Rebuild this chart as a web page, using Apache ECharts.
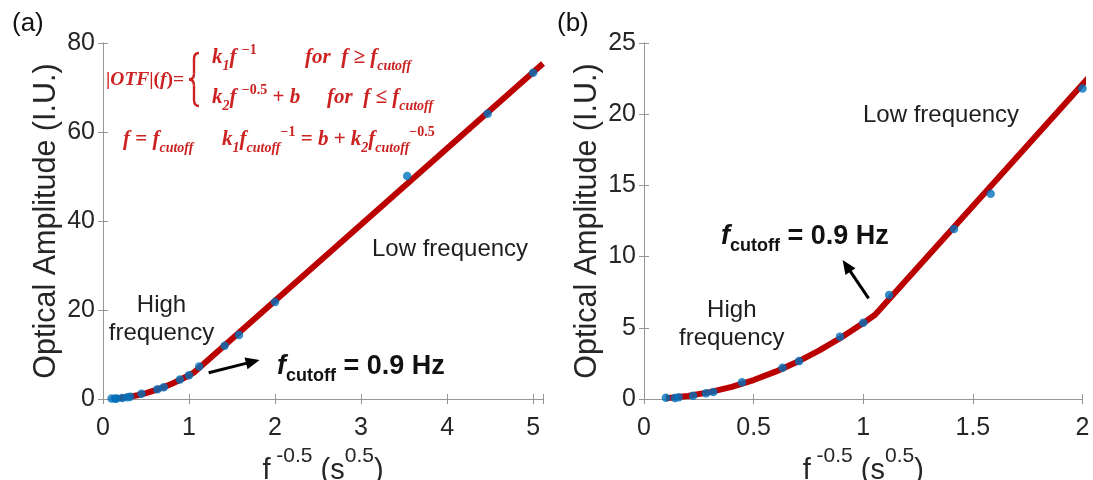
<!DOCTYPE html>
<html>
<head>
<meta charset="utf-8">
<script src="https://cdn.jsdelivr.net/npm/echarts@6/dist/echarts.min.js"></script>
<style>
  html, body { margin: 0; padding: 0; background: #fff; }
  #chart { width: 1093px; height: 480px; }
</style>
</head>
<body>
<div id="chart"></div>
<script>
// Measured amplitude versus f^-0.5 (f = modulation frequency, Hz)
const invSqrtF = [0.1, 0.141, 0.158, 0.224, 0.283, 0.316, 0.447, 0.632, 0.707, 0.894, 1.0, 1.118, 1.414, 1.581, 2.0, 3.536, 4.472, 5.0];
const amplitude = [0.09, 0.07, 0.12, 0.23, 0.40, 0.49, 1.17, 2.19, 2.66, 4.38, 5.36, 7.30, 11.94, 14.41, 21.8, 50.1, 64.1, 73.3];

// Piecewise fit: quadratic branch (high frequency) then straight branch (low frequency)
const fitX = [0.1, 0.2, 0.3, 0.4, 0.5, 0.6, 0.7, 0.8, 0.9, 1.0, 1.054, 2.0, 5.115];
const fitY = [0.05, 0.21, 0.48, 0.85, 1.33, 1.92, 2.61, 3.41, 4.32, 5.33, 5.92, 22.1, 75.4];

// Axis ranges and tick steps for panels (a) and (b)
const xRangeA = [0, 5.115], xStepA = 1;
const yRangeA = [0, 80], yStepA = 20;
const xRangeB = [0, 2], xStepB = 0.5;
const yRangeB = [0, 25], yStepB = 5;

const pairs = (xs, ys) => xs.map((x, i) => [x, ys[i]]);
const measured = pairs(invSqrtF, amplitude);
const fitted = pairs(fitX, fitY);

const SANS = '"Liberation Sans", Arial, Helvetica, sans-serif';
const SERIF = '"Liberation Serif", "Times New Roman", serif';
const FRAME = '#979797';
const INK = '#262626';
const RED = '#bb0000';
const EQ = '#cc2222';
const BLUE = '#0072bd';

const chart = echarts.init(document.getElementById('chart'), null, { renderer: 'canvas' });

function tickFmt(step) {
  return function (v) {
    const k = Math.round(v / step);
    return Math.abs(k * step - v) < 1e-6 ? String(+(v.toFixed(3))) : '';
  };
}

const xName = {
  name: '{m|f}{s| -0.5}{m| (s}{s|0.5}{m|)}',
  nameLocation: 'middle',
  nameGap: 39,
  nameTextStyle: {
    rich: {
      m: { fontSize: 29, lineHeight: 50, fontFamily: SANS, color: INK },
      s: { fontSize: 21, lineHeight: 18, verticalAlign: 'top', fontFamily: SANS, color: INK }
    }
  }
};

function bottomAxis(grid, range, step) {
  return Object.assign({
    type: 'value', gridIndex: grid, position: 'bottom',
    min: range[0], max: range[1], interval: step,
    axisLine: { show: true, lineStyle: { color: FRAME, width: 1 } },
    axisTick: { show: true, inside: true, length: 5, lineStyle: { color: FRAME } },
    axisLabel: { show: true, fontSize: 25, margin: 17, color: INK, fontFamily: SANS, formatter: tickFmt(step) },
    splitLine: { show: false }
  }, xName);
}
function topAxis(grid, range, step) {
  return {
    type: 'value', gridIndex: grid, position: 'top',
    min: range[0], max: range[1], interval: step,
    axisLine: { show: true, lineStyle: { color: FRAME, width: 1 } },
    axisTick: { show: true, inside: true, length: 5, lineStyle: { color: FRAME } },
    axisLabel: { show: false },
    splitLine: { show: false }
  };
}
function leftAxis(grid, range, step) {
  return {
    type: 'value', gridIndex: grid, position: 'left',
    min: range[0], max: range[1], interval: step,
    name: 'Optical Amplitude (I.U.)',
    nameLocation: 'middle', nameGap: 41,
    nameTextStyle: { fontSize: 30.5, fontFamily: SANS, color: INK },
    axisLine: { show: true, lineStyle: { color: FRAME, width: 1 } },
    axisTick: { show: true, inside: true, length: 5, lineStyle: { color: FRAME } },
    axisLabel: { show: true, fontSize: 25, margin: 8, color: INK, fontFamily: SANS },
    splitLine: { show: false }
  };
}
function rightAxis(grid, range, step) {
  return {
    type: 'value', gridIndex: grid, position: 'right',
    min: range[0], max: range[1], interval: step,
    axisLine: { show: true, lineStyle: { color: FRAME, width: 1 } },
    axisTick: { show: true, inside: true, length: 5, lineStyle: { color: FRAME } },
    axisLabel: { show: false },
    splitLine: { show: false }
  };
}

function fitSeries(xi, yi) {
  return {
    type: 'line', xAxisIndex: xi, yAxisIndex: yi, data: fitted,
    showSymbol: false, symbol: 'none', clip: true, z: 2,
    lineStyle: { color: RED, width: 6 }
  };
}
function dotSeries(xi, yi) {
  return {
    type: 'scatter', xAxisIndex: xi, yAxisIndex: yi, data: measured,
    symbol: 'circle', symbolSize: 8.5, clip: true, z: 3,
    itemStyle: { color: BLUE }
  };
}

// Annotation helpers
function label(x, y, text, opts) {
  return {
    type: 'text', z: 10,
    style: Object.assign({
      x: x, y: y, text: text, fill: '#1e1e1e', fontSize: 24, fontFamily: SANS,
      align: 'left', verticalAlign: 'middle'
    }, opts || {})
  };
}
function cutoffLabel(x, y) {
  return label(x, y, '{fi|f}{sub|cutoff}{m| = 0.9 Hz}', {
    rich: {
      fi: { fontSize: 27, fontWeight: 'bold', fontStyle: 'italic', fontFamily: SANS, lineHeight: 36, fill: '#111' },
      sub: { fontSize: 18, fontWeight: 'bold', fontFamily: SANS, lineHeight: 18, verticalAlign: 'bottom', fill: '#111' },
      m: { fontSize: 27, fontWeight: 'bold', fontFamily: SANS, lineHeight: 36, fill: '#111' }
    }
  });
}
function arrow(x1, y1, x2, y2) {
  const dx = x2 - x1, dy = y2 - y1, L = Math.hypot(dx, dy);
  const ux = dx / L, uy = dy / L, nx = -uy, ny = ux;
  const head = 14, half = 6;
  const bx = x2 - ux * head, by = y2 - uy * head;
  return [
    { type: 'line', z: 10, shape: { x1: x1, y1: y1, x2: bx + ux * 2, y2: by + uy * 2 },
      style: { stroke: '#000', lineWidth: 3 } },
    { type: 'polygon', z: 10,
      shape: { points: [[x2, y2], [bx + nx * half, by + ny * half], [bx - nx * half, by - ny * half]] },
      style: { fill: '#000' } }
  ];
}
// Curly brace of the piecewise definition, from short strokes and curves
function brace(x, top, bottom, tipX) {
  const mid = (top + bottom) / 2, st = { stroke: EQ, lineWidth: 2.4, fill: null };
  const seg = (x1, y1, cx, cy, x2, y2) => ({ type: 'bezierCurve', z: 10,
    shape: { x1: x1, y1: y1, cpx1: cx, cpy1: cy, x2: x2, y2: y2 }, style: st });
  return [
    seg(x + 5, top, x, top, x, top + 6),
    { type: 'line', z: 10, shape: { x1: x, y1: top + 6, x2: x, y2: mid - 6 }, style: st },
    seg(x, mid - 6, x, mid, tipX, mid),
    seg(tipX, mid, x, mid, x, mid + 6),
    { type: 'line', z: 10, shape: { x1: x, y1: mid + 6, x2: x, y2: bottom - 6 }, style: st },
    seg(x, bottom - 6, x, bottom, x + 5, bottom)
  ];
}
function eqStyles(size) {
  const small = Math.round(size * 0.67);
  return {
    m: { fontSize: size, fontWeight: 'bold', fontStyle: 'italic', fontFamily: SERIF, lineHeight: 30, fill: EQ },
    b: { fontSize: size, fontWeight: 'bold', fontFamily: SERIF, lineHeight: 30, fill: EQ },
    d: { fontSize: small, fontWeight: 'bold', fontStyle: 'italic', fontFamily: SERIF, lineHeight: 14, verticalAlign: 'bottom', fill: EQ },
    u: { fontSize: small, fontWeight: 'bold', fontFamily: SERIF, lineHeight: 12, verticalAlign: 'top', fill: EQ }
  };
}
const eqRich = eqStyles(21);
const eqRichHead = eqStyles(19.5);
function eq(x, y, text, rich) {
  return label(x, y, text, { rich: rich || eqRich });
}

const graphics = [
  label(12, 24, '(a)', { fontSize: 26, fill: '#111' }),
  label(557, 24, '(b)', { fontSize: 26, fill: '#111' }),

  // panel (a) notes
  label(372, 249, 'Low frequency'),
  label(161.5, 319, 'High\nfrequency', { align: 'center', lineHeight: 28 }),
  cutoffLabel(277, 367),
  ...arrow(208.7, 372.7, 259.6, 360),

  // panel (b) notes
  label(863, 115, 'Low frequency'),
  label(731.8, 324, 'High\nfrequency', { align: 'center', lineHeight: 28 }),
  cutoffLabel(721, 237),
  ...arrow(868.6, 298.3, 842.6, 260),

  // model equations
  eq(106, 80, '{b||}{m|OTF}{b||(}{m|f}{b|)=}', eqRichHead),
  ...brace(194, 53, 106, 189),
  eq(212, 58, '{m|k}{d|1}{m|f }{u|\u22121}'),
  eq(305, 58, '{m|for  f \u2265 f}{d|cutoff}'),
  eq(212, 98, '{m|k}{d|2}{m|f }{u|\u22120.5}{b| + }{m|b}'),
  eq(327, 98, '{m|for  f \u2264 f}{d|cutoff}'),
  eq(123, 140, '{m|f}{b| = }{m|f}{d|cutoff}'),
  eq(222, 140, '{m|k}{d|1}{m|f}{d|cutoff}{u|\u22121}{b| = }{m|b}{b| + }{m|k}{d|2}{m|f}{d|cutoff}{u|\u22120.5}')
];

chart.setOption({
  animation: false,
  backgroundColor: '#ffffff',
  grid: [
    { left: 103, top: 43, width: 440, height: 356, containLabel: false, outerBoundsMode: 'none' },
    { left: 644, top: 43, width: 438.5, height: 356, containLabel: false, outerBoundsMode: 'none' }
  ],
  xAxis: [
    bottomAxis(0, xRangeA, xStepA), topAxis(0, xRangeA, xStepA),
    bottomAxis(1, xRangeB, xStepB), topAxis(1, xRangeB, xStepB)
  ],
  yAxis: [
    leftAxis(0, yRangeA, yStepA), rightAxis(0, yRangeA, yStepA),
    leftAxis(1, yRangeB, yStepB), rightAxis(1, yRangeB, yStepB)
  ],
  series: [
    fitSeries(0, 0), dotSeries(0, 0),
    fitSeries(2, 2), dotSeries(2, 2)
  ],
  graphic: graphics
});
</script>
</body>
</html>
